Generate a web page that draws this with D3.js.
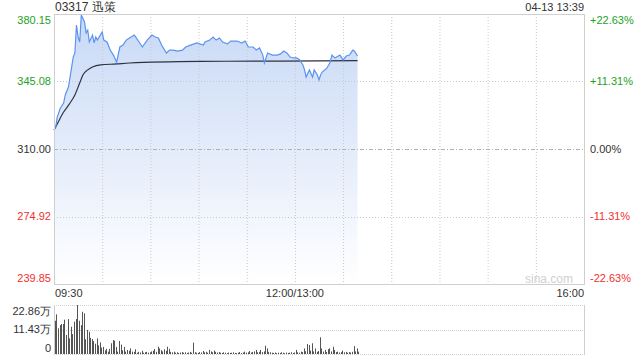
<!DOCTYPE html>
<html lang="zh">
<head>
<meta charset="UTF-8">
<title>03317 迅策</title>
<style>
  body { margin: 0; background: #fff; }
  svg { display: block; font-family: "Liberation Sans", Arial, sans-serif; }
</style>
</head>
<body>
<svg id="chart" width="640" height="360"></svg>
<script src="https://d3js.org/d3.v7.min.js"></script>
<script>
// minutes since 09:30 (150 = 13:00), trading day is 330 minutes
const priceMin = [0,1,2,4,6,7,9,10,12,13,14,15,16,17,19,20,21,22,24,25,26,27,30,31,33,35,37,39,41,43,45,47,50,53,55,58,61,63,65,67,70,72,74,77,80,82,85,89,93,94,97,99,101,103,105,108,110,114,117,119,121,124,126,128,130,131,133,136,139,141,143,145,147,149,151,153,155,156,157,159,161,162,164,165,166,167,170,172,173,175,178,180,182,184,186,187,189];
const priceVal = [319.9,320.9,326.6,331.3,333.9,338.1,342.2,347.4,357.8,359.9,374.4,368.2,365.6,379.6,376.0,370.3,371.8,365.6,369.2,365.1,368.2,366.6,370.8,366.6,365.6,361.4,358.8,355.2,363.0,364.0,366.6,367.7,369.2,365.6,363.0,366.6,369.2,368.2,367.7,364.0,359.9,361.4,361.4,360.9,361.4,363.0,364.0,365.1,364.0,365.6,366.6,368.2,366.6,367.7,365.6,364.6,366.1,366.1,365.1,366.1,363.0,363.0,361.4,362.5,358.8,354.7,359.9,358.8,358.8,359.4,360.9,359.9,357.8,357.3,357.3,356.3,353.7,351.1,347.4,351.1,347.4,351.1,348.5,345.9,348.5,350.0,352.1,355.2,358.8,357.3,358.8,356.3,358.3,358.8,361.4,360.9,358.3];

const avgMin = [0,1,6,10,13,16,18,21,24,29,39,47,91,141,189];
const avgVal = [319.9,321.4,329.2,333.9,338.1,344.3,348.5,351.1,352.6,353.7,354.2,354.7,355.5,355.7,355.9];

// volume per minute, unit 万
const volume = [15.5,18.5,12.0,13.5,14.0,14.0,16.0,8.9,16.3,7.3,12.7,9.3,15.1,16.3,22.86,15.5,13.5,19.7,19.0,6.9,11.2,10.4,7.5,
  7.0,6.0,4.8,7.3,4.0,5.4,3.0,3.3,1.7,2.4,1.1,2.4,5.0,6.5,6.2,3.3,1.1,6.1,4.4,1.7,3.3,1.1,1.9,1.5,2.6,1.1,1.0,
  2.2,0.6,1.0,0.7,1.5,0.6,0.8,1.0,0.6,0.8,1.2,1.5,2.3,1.0,3.4,2.6,1.8,1.2,2.2,1.5,3.4,2.4,1.0,0.8,1.1,0.6,0.8,0.5,0.7,0.9,
  0.6,0.8,0.5,0.7,1.0,0.6,5.3,0.8,0.6,0.5,0.9,0.7,1.4,0.8,1.0,0.6,1.9,1.2,0.8,1.6,
  1.0,0.7,0.9,0.6,0.5,0.8,0.6,0.4,0.7,0.5,0.6,0.8,0.5,0.4,0.6,0.9,0.5,0.7,1.1,0.6,0.8,1.4,0.7,0.9,1.2,1.9,0.8,1.0,1.9,0.9,
  1.2,3.9,2.6,1.0,0.8,0.6,0.5,0.7,0.4,0.6,0.5,0.8,0.6,0.4,0.7,0.5,0.6,0.8,0.5,0.7,
  1.9,0.8,0.6,1.1,0.9,2.6,1.3,4.7,4.2,1.6,5.0,1.2,2.6,1.0,1.4,7.8,2.6,1.1,1.9,0.9,2.3,2.6,1.2,3.4,1.9,0.9,1.1,0.7,0.9,1.6,
  0.8,1.0,0.6,0.9,0.7,1.0,3.7,1.2,2.6,1.1];

const priceTicks = [380.15, 345.08, 310.00, 274.92, 239.85];
const pctTicks = ["+22.63%", "+11.31%", "0.00%", "-11.31%", "-22.63%"];
const volTicks = [22.86, 11.43, 0];
const timeLabels = ["09:30", "12:00/13:00", "16:00"];
const timeLabelMin = [0, 150, 330];
const prevClose = 310.00;

const svg = d3.select('#chart');
const plotL = 54, plotR = 584, plotT = 14, plotB = 284;
const volTop = 305, volBottom = 354;

const x = d3.scaleLinear().domain([0, 330]).range([plotL, plotR]);
const y = d3.scaleLinear().domain([239.85, 380.15]).range([plotB, plotT]);
const yv = d3.scaleLinear().domain([0, 22.86]).range([volBottom, volTop]);

const green = '#1ea21e', red = '#f23030', dark = '#333';
const tickColor = (v) => v > prevClose ? green : (v < prevClose ? red : dark);

// gradient for area
const defs = svg.append('defs');
const grad = defs.append('linearGradient').attr('id', 'areaGrad')
  .attr('x1', 0).attr('y1', 0).attr('x2', 0).attr('y2', 1);
grad.append('stop').attr('offset', '0%').attr('stop-color', '#c8d9f6');
grad.append('stop').attr('offset', '100%').attr('stop-color', '#ffffff');

// price area first, grid drawn on top of it
const pts = priceMin.map((m, i) => [m, priceVal[i]]);
svg.append('path').datum(pts)
  .attr('fill', 'url(#areaGrad)')
  .attr('d', d3.area().x(d => x(d[0])).y0(plotB).y1(d => y(d[1])));

// vertical grid
const vGrid = d3.range(30, 330, 30);
svg.append('g').selectAll('line').data(vGrid).join('line')
  .attr('x1', d => x(d) + 0.5).attr('x2', d => x(d) + 0.5)
  .attr('y1', plotT).attr('y2', plotB)
  .attr('stroke', '#c8c8c8').attr('stroke-dasharray', '1,2');

// horizontal grid
svg.append('g').selectAll('line').data([345.08, 274.92]).join('line')
  .attr('x1', plotL).attr('x2', plotR)
  .attr('y1', d => Math.round(y(d)) + 0.5).attr('y2', d => Math.round(y(d)) + 0.5)
  .attr('stroke', '#c8c8c8').attr('stroke-dasharray', '1,2');
svg.append('line')
  .attr('x1', plotL).attr('x2', plotR)
  .attr('y1', Math.round(y(prevClose)) + 0.5).attr('y2', Math.round(y(prevClose)) + 0.5)
  .attr('stroke', '#b0b0b0').attr('stroke-dasharray', '4,2,1,2');

// average line and price line
const avgPts = avgMin.map((m, i) => [m, avgVal[i]]);
svg.append('path').datum(avgPts)
  .attr('fill', 'none').attr('stroke', '#2c3240').attr('stroke-width', 1.2)
  .attr('d', d3.line().x(d => x(d[0])).y(d => y(d[1])).curve(d3.curveMonotoneX));

svg.append('path').datum(pts)
  .attr('fill', 'none').attr('stroke', '#5a93f0').attr('stroke-width', 1.2)
  .attr('d', d3.line().x(d => x(d[0])).y(d => y(d[1])));

// plot frame
svg.append('rect')
  .attr('x', plotL + 0.5).attr('y', plotT + 0.5)
  .attr('width', plotR - plotL).attr('height', plotB - plotT)
  .attr('fill', 'none').attr('stroke', '#cfcfcf');

// watermark
svg.append('text').attr('x', plotR - 11).attr('y', plotB - 1)
  .attr('text-anchor', 'end').attr('font-size', 12).attr('fill', '#d0d0d0')
  .text('sina.com');

// left price labels
const n = priceTicks.length;
svg.append('g').selectAll('text').data(priceTicks).join('text')
  .attr('x', 51)
  .attr('y', (d, i) => y(d) + (i === 0 ? 6 : i === n - 1 ? -6 : 0))
  .attr('dy', '0.35em').attr('text-anchor', 'end')
  .attr('font-size', 11).attr('fill', d => tickColor(d))
  .text(d => d.toFixed(2));

// right percent labels
svg.append('g').selectAll('text').data(pctTicks).join('text')
  .attr('x', 590)
  .attr('y', (d, i) => y(priceTicks[i]) + (i === 0 ? 6 : i === n - 1 ? -6 : 0))
  .attr('dy', '0.35em').attr('text-anchor', 'start')
  .attr('font-size', 11).attr('fill', (d, i) => tickColor(priceTicks[i]))
  .text(d => d);

// title and time
svg.append('text').attr('x', 55).attr('y', 11)
  .attr('font-size', 12).attr('fill', dark).text('03317 迅策');
svg.append('text').attr('x', plotR).attr('y', 11).attr('text-anchor', 'end')
  .attr('font-size', 11).attr('fill', dark).text('04-13 13:39');

// time axis labels
svg.append('g').selectAll('text').data(timeLabels).join('text')
  .attr('x', (d, i) => x(timeLabelMin[i]) + (i === 0 ? 1 : 0))
  .attr('y', 297)
  .attr('text-anchor', (d, i) => i === 0 ? 'start' : i === 1 ? 'middle' : 'end')
  .attr('font-size', 11).attr('fill', dark)
  .text(d => d);

// volume panel
svg.append('g').selectAll('line').data(volTicks).join('line')
  .attr('x1', plotL).attr('x2', plotR)
  .attr('y1', d => Math.round(yv(d)) + 0.5).attr('y2', d => Math.round(yv(d)) + 0.5)
  .attr('stroke', '#cfcfcf').attr('stroke-dasharray', '1,1');
svg.append('g').selectAll('line').data([plotL, plotR]).join('line')
  .attr('x1', d => d + 0.5).attr('x2', d => d + 0.5)
  .attr('y1', volTop).attr('y2', volBottom + 1)
  .attr('stroke', '#cfcfcf');

svg.append('g').selectAll('rect').data(volume).join('rect')
  .attr('x', (d, i) => Math.round(x(i + 0.5)))
  .attr('width', 1)
  .attr('y', d => yv(d))
  .attr('height', d => volBottom - yv(d))
  .attr('fill', '#555');

svg.append('g').selectAll('text').data(volTicks).join('text')
  .attr('x', 51)
  .attr('y', (d, i) => yv(d) + (i === 0 ? 6 : i === volTicks.length - 1 ? -6 : 0))
  .attr('dy', '0.35em').attr('text-anchor', 'end')
  .attr('font-size', 11).attr('fill', dark)
  .text(d => d === 0 ? '0' : d.toFixed(2) + '万');
</script>
</body>
</html>
